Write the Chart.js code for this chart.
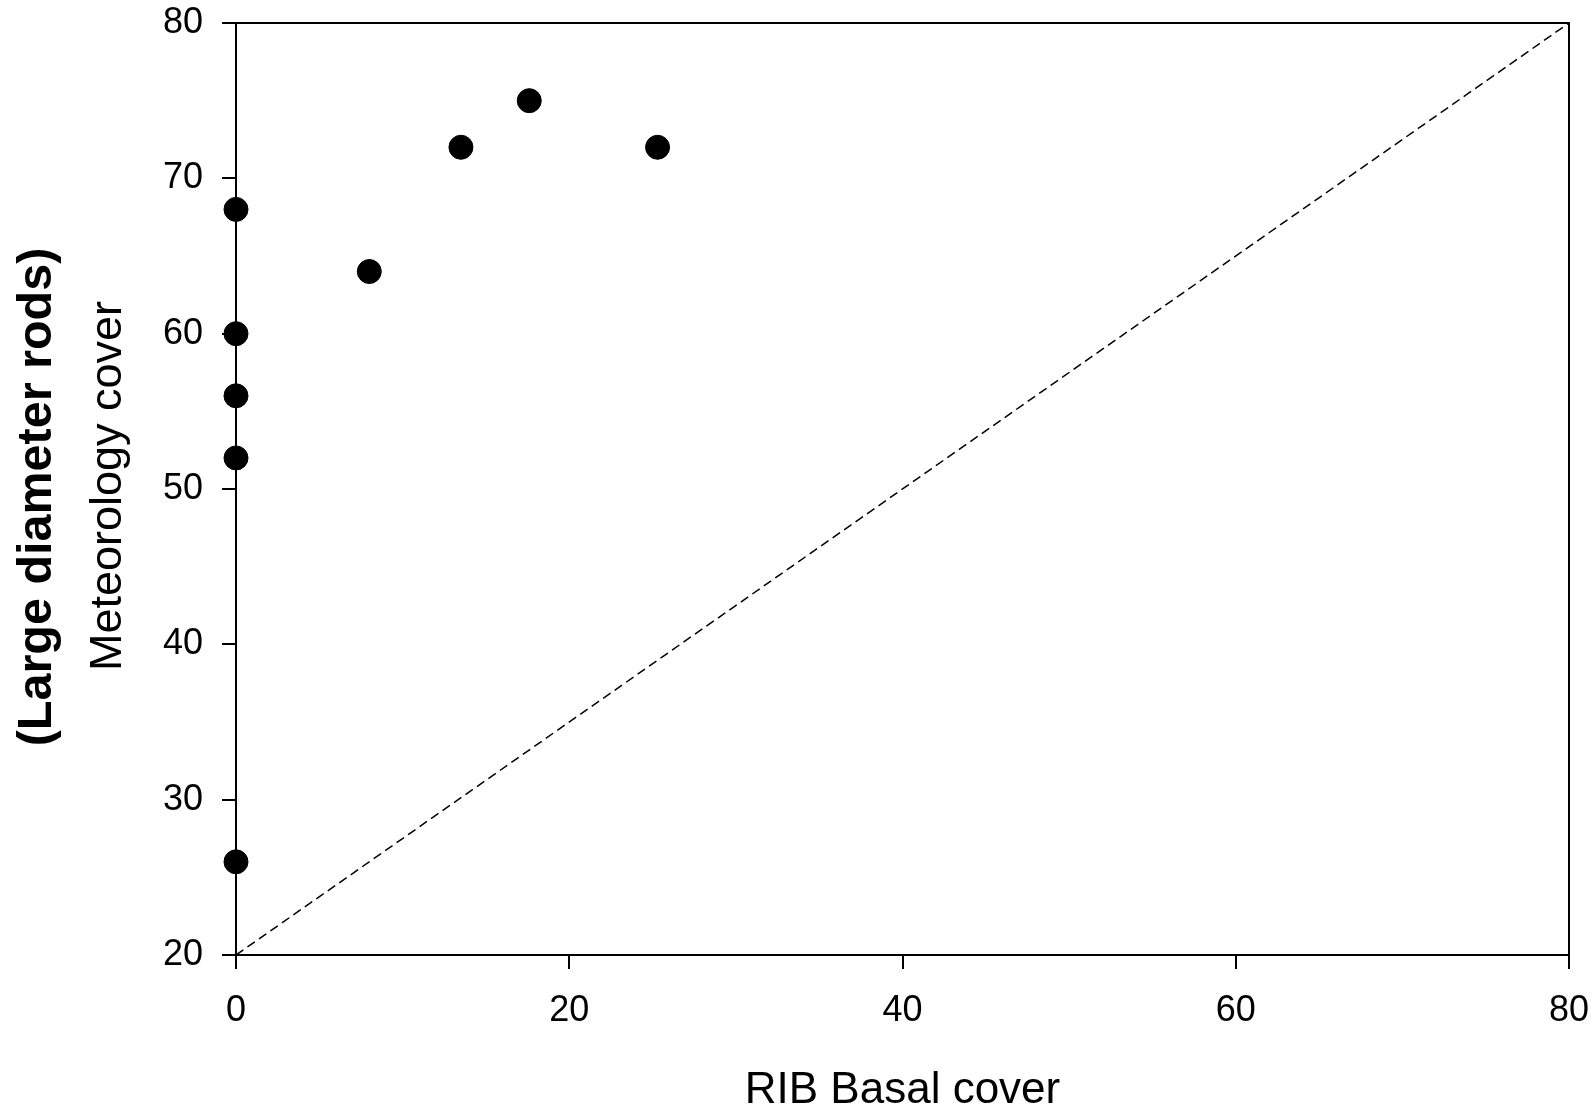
<!DOCTYPE html>
<html>
<head>
<meta charset="utf-8">
<title>Meteorology cover vs RIB basal cover</title>
<script src="https://cdn.jsdelivr.net/npm/chart.js@4.4.1/dist/chart.umd.min.js"></script>
<style>
    html, body { margin: 0; padding: 0; background: #fff; }
    #wrap { width: 1595px; height: 1108px; }
</style>
</head>
<body>
<div id="wrap"><canvas id="coverChart" width="1595" height="1108"></canvas></div>
<script>
// Observations: RIB basal cover (x) vs meteorology cover, large diameter rods (y)
const ribBasal   = [0, 0, 0, 0, 0, 8, 13.5, 17.6, 25.3];
const meteoCover = [68, 60, 56, 52, 26, 64, 72, 75, 72];

// 1:1 reference line end points
const refLineX = [0, 80];
const refLineY = [20, 80];

// Axis ticks
const xTickValues = [0, 20, 40, 60, 80];
const yTickValues = [20, 30, 40, 50, 60, 70, 80];

const FONT = "'Liberation Sans', Arial, Helvetica, sans-serif";

const toPoints = (xs, ys) => xs.map((x, i) => ({ x: x, y: ys[i] }));

// Top and right edges of the plot frame
const frameBox = {
    id: "frameBox",
    beforeDatasetsDraw(chart) {
        const { ctx, chartArea: a } = chart;
        ctx.save();
        ctx.strokeStyle = "#000";
        ctx.lineWidth = 2;
        ctx.beginPath();
        ctx.moveTo(a.left, a.top);
        ctx.lineTo(a.right, a.top);
        ctx.lineTo(a.right, a.bottom);
        ctx.stroke();
        ctx.restore();
    }
};

// Two-line y axis title: bold line plus regular line
const yTitles = {
    id: "yTitles",
    afterDraw(chart) {
        const { ctx, chartArea: a } = chart;
        const midY = (a.top + a.bottom) / 2;
        ctx.save();
        ctx.fillStyle = "#000";
        ctx.textAlign = "center";
        ctx.textBaseline = "alphabetic";

        ctx.save();
        ctx.translate(51, midY + 8);
        ctx.rotate(-Math.PI / 2);
        ctx.font = "bold 48.5px " + FONT;
        ctx.fillText("(Large diameter rods)", 0, 0);
        ctx.restore();

        ctx.save();
        ctx.translate(121, midY - 3);
        ctx.rotate(-Math.PI / 2);
        ctx.font = "45px " + FONT;
        ctx.fillText("Meteorology cover", 0, 0);
        ctx.restore();

        ctx.restore();
    }
};

const ctx = document.getElementById("coverChart").getContext("2d");
const chart = new Chart(ctx, {
    type: "scatter",
    data: {
        datasets: [
            {
                label: "Cover",
                data: toPoints(ribBasal, meteoCover),
                backgroundColor: "#000",
                borderColor: "#000",
                pointRadius: 12,
                pointHoverRadius: 12,
                pointBorderWidth: 1,
                clip: false
            },
            {
                type: "line",
                label: "1:1",
                data: toPoints(refLineX, refLineY),
                borderColor: "#000",
                borderWidth: 1.5,
                borderDash: [9, 5],
                pointRadius: 0,
                fill: false,
                tension: 0
            }
        ]
    },
    options: {
        responsive: false,
        animation: false,
        events: [],
        layout: { autoPadding: false, padding: { top: 23, right: 26, bottom: 0, left: 0 } },
        plugins: {
            legend: { display: false },
            tooltip: { enabled: false }
        },
        scales: {
            x: {
                type: "linear",
                min: 0,
                max: 80,
                afterBuildTicks: s => { s.ticks = xTickValues.map(v => ({ value: v })); },
                afterFit: s => {
                    s.height = 153;
                    s.paddingLeft = 0;
                    s.paddingRight = 0;
                },
                border: { display: true, color: "#000", width: 2 },
                grid: { drawOnChartArea: false, drawTicks: true, tickLength: 14, tickColor: "#000", lineWidth: 2 },
                ticks: { color: "#000", padding: 20, maxRotation: 0, font: { family: FONT, size: 36 } },
                title: {
                    display: true,
                    text: "RIB Basal cover",
                    color: "#000",
                    font: { family: FONT, size: 44, lineHeight: 0.78 },
                    padding: { top: 0, bottom: 0 }
                }
            },
            y: {
                type: "linear",
                min: 20,
                max: 80,
                afterBuildTicks: s => { s.ticks = yTickValues.map(v => ({ value: v })); },
                afterFit: s => {
                    s.width = 236;
                    s.paddingTop = 0;
                    s.paddingBottom = 0;
                },
                border: { display: true, color: "#000", width: 2 },
                grid: { drawOnChartArea: false, drawTicks: true, tickLength: 14, tickColor: "#000", lineWidth: 2 },
                ticks: { color: "#000", padding: 19, font: { family: FONT, size: 36 } }
            }
        }
    },
    plugins: [frameBox, yTitles]
});
</script>
</body>
</html>
